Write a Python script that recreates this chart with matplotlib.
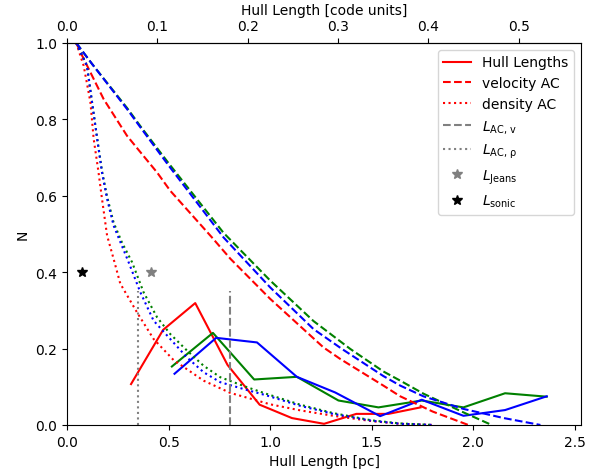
import matplotlib
matplotlib.use("Agg")
import matplotlib.pyplot as plt

# Hull length histograms (pc, N)
hull_red_x = [0.315, 0.473, 0.631, 0.79, 0.948, 1.107, 1.265, 1.424, 1.582, 1.74]
hull_red_y = [0.107, 0.249, 0.319, 0.157, 0.053, 0.018, 0.003, 0.029, 0.029, 0.046]
hull_green_x = [0.516, 0.718, 0.921, 1.131, 1.336, 1.533, 1.746, 1.951, 2.156, 2.361]
hull_green_y = [0.153, 0.241, 0.119, 0.126, 0.064, 0.046, 0.064, 0.046, 0.083, 0.074]
hull_blue_x = [0.529, 0.734, 0.935, 1.131, 1.32, 1.541, 1.746, 1.951, 2.156, 2.361]
hull_blue_y = [0.134, 0.228, 0.216, 0.126, 0.085, 0.023, 0.066, 0.024, 0.039, 0.075]

# velocity autocorrelation curves
vac_red_x = [0.045, 0.074, 0.18, 0.295, 0.361, 0.443, 0.508, 0.713, 0.804, 1.0, 1.262, 1.344, 1.557, 1.64, 1.80, 1.975]
vac_red_y = [1.0, 0.967, 0.853, 0.757, 0.714, 0.661, 0.613, 0.491, 0.435, 0.33, 0.203, 0.173, 0.103, 0.075, 0.035, 0.0]
vac_blue_x = [0.045, 0.123, 0.295, 0.361, 0.5, 0.77, 1.0, 1.213, 1.353, 1.557, 1.64, 1.754, 1.951, 2.15, 2.33]
vac_blue_y = [1.0, 0.945, 0.827, 0.779, 0.679, 0.491, 0.36, 0.251, 0.199, 0.128, 0.103, 0.075, 0.042, 0.018, 0.0]
vac_green_x = [0.045, 0.123, 0.295, 0.361, 0.5, 0.77, 1.0, 1.213, 1.394, 1.557, 1.64, 1.754, 1.951, 2.09]
vac_green_y = [1.0, 0.945, 0.83, 0.782, 0.685, 0.503, 0.378, 0.272, 0.199, 0.14, 0.116, 0.082, 0.033, 0.0]

# density autocorrelation curves
dac_red_x = [0.045, 0.082, 0.115, 0.131, 0.155, 0.172, 0.197, 0.229, 0.262, 0.344, 0.426, 0.524, 0.672, 0.803, 0.935, 1.0, 1.15, 1.31, 1.5, 1.64, 1.8]
dac_red_y = [1.0, 0.94, 0.845, 0.749, 0.661, 0.592, 0.496, 0.435, 0.37, 0.295, 0.225, 0.17, 0.116, 0.084, 0.064, 0.054, 0.038, 0.024, 0.01, 0.003, 0.0]
dac_blue_x = [0.045, 0.098, 0.123, 0.148, 0.172, 0.197, 0.229, 0.27, 0.303, 0.361, 0.426, 0.508, 0.59, 0.672, 0.754, 0.869, 0.984, 1.148, 1.31, 1.5, 1.64, 1.8]
dac_blue_y = [1.0, 0.94, 0.845, 0.749, 0.661, 0.592, 0.522, 0.469, 0.426, 0.347, 0.273, 0.225, 0.177, 0.138, 0.112, 0.094, 0.077, 0.05, 0.029, 0.011, 0.003, 0.0]
dac_green_x = [0.045, 0.098, 0.123, 0.148, 0.172, 0.197, 0.229, 0.27, 0.32, 0.377, 0.443, 0.508, 0.59, 0.672, 0.754, 0.885, 0.984, 1.148, 1.31, 1.5, 1.64, 1.8]
dac_green_y = [1.0, 0.94, 0.845, 0.752, 0.665, 0.598, 0.53, 0.478, 0.426, 0.347, 0.282, 0.238, 0.195, 0.155, 0.125, 0.099, 0.081, 0.053, 0.031, 0.012, 0.004, 0.0]

# characteristic lengths
L_ac_v = 0.803
L_ac_rho = 0.347
L_line_top = 0.35
L_jeans = 0.413
L_sonic = 0.074
star_y = 0.40

pc_per_code = 4.447

fig = plt.figure(figsize=(6.04, 4.77), dpi=100)
ax = fig.add_axes([0.111, 0.107, 0.851, 0.801])

ax.plot(hull_red_x, hull_red_y, color='red', label='Hull Lengths')
ax.plot(hull_green_x, hull_green_y, color='green')
ax.plot(hull_blue_x, hull_blue_y, color='blue')

ax.plot(vac_red_x, vac_red_y, color='red', ls='--', label='velocity AC')
ax.plot(vac_green_x, vac_green_y, color='green', ls='--')
ax.plot(vac_blue_x, vac_blue_y, color='blue', ls='--')

ax.plot(dac_red_x, dac_red_y, color='red', ls=':', label='density AC')
ax.plot(dac_green_x, dac_green_y, color='green', ls=':')
ax.plot(dac_blue_x, dac_blue_y, color='blue', ls=':')

ax.plot([L_ac_v, L_ac_v], [0, L_line_top], color='gray', ls='--', label=r'$L_\mathrm{AC,\,v}$')
ax.plot([L_ac_rho, L_ac_rho], [0, L_line_top], color='gray', ls=':', label=r'$L_\mathrm{AC,\,\rho}$')
ax.plot([L_jeans], [star_y], ls='none', marker='*', color='gray', markersize=7, label=r'$L_\mathrm{Jeans}$')
ax.plot([L_sonic], [star_y], ls='none', marker='*', color='black', markersize=7, label=r'$L_\mathrm{sonic}$')

ax.set_xlim(0, 2.53)
ax.set_ylim(0, 1.0)
ax.set_xlabel('Hull Length [pc]')
ax.set_ylabel('N')
ax.legend(loc='upper right', numpoints=1)

sec = ax.secondary_xaxis('top', functions=(lambda x: x / pc_per_code, lambda x: x * pc_per_code))
sec.set_xlabel('Hull Length [code units]')

fig.savefig('out.png', dpi=100)
